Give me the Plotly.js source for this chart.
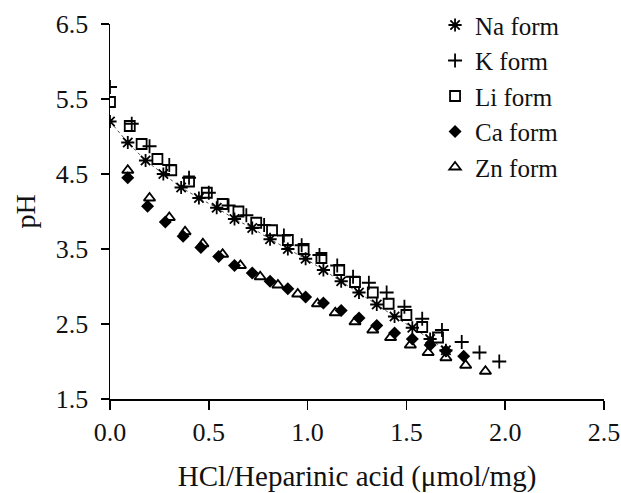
<!DOCTYPE html>
<html>
<head>
<meta charset="utf-8">
<script src="https://cdn.plot.ly/plotly-3.0.1.min.js"></script>
<style>html,body{margin:0;padding:0;background:#fff;}#chart{width:621px;height:493px;}</style>
</head>
<body>
<div id="chart"></div>
<script>
// Na form
const naX = [0.00, 0.09, 0.18, 0.27, 0.36, 0.45, 0.54, 0.63, 0.72, 0.81, 0.90, 0.99, 1.08, 1.17, 1.26, 1.35, 1.44, 1.53, 1.62, 1.70];
const naY = [5.20, 4.92, 4.68, 4.50, 4.32, 4.18, 4.05, 3.90, 3.78, 3.63, 3.50, 3.37, 3.22, 3.07, 2.92, 2.76, 2.60, 2.45, 2.30, 2.15];
// K form
const kX = [0.00, 0.11, 0.20, 0.30, 0.40, 0.50, 0.60, 0.69, 0.78, 0.88, 0.97, 1.06, 1.15, 1.23, 1.31, 1.40, 1.49, 1.58, 1.68, 1.78, 1.87, 1.97];
const kY = [5.66, 5.17, 4.87, 4.62, 4.45, 4.25, 4.08, 3.95, 3.82, 3.68, 3.55, 3.42, 3.28, 3.13, 3.05, 2.92, 2.73, 2.57, 2.42, 2.26, 2.12, 2.00];
// Li form
const liX = [0.00, 0.10, 0.16, 0.24, 0.31, 0.40, 0.49, 0.57, 0.65, 0.74, 0.82, 0.90, 0.98, 1.07, 1.16, 1.24, 1.33, 1.41, 1.50, 1.58, 1.66];
const liY = [5.46, 5.14, 4.90, 4.70, 4.55, 4.40, 4.25, 4.10, 4.00, 3.85, 3.75, 3.62, 3.50, 3.38, 3.22, 3.06, 2.92, 2.77, 2.62, 2.46, 2.32];
// Ca form
const caX = [0.09, 0.19, 0.28, 0.37, 0.46, 0.55, 0.63, 0.72, 0.81, 0.90, 0.99, 1.08, 1.17, 1.26, 1.35, 1.44, 1.53, 1.62, 1.70, 1.79];
const caY = [4.45, 4.07, 3.86, 3.67, 3.52, 3.40, 3.28, 3.18, 3.07, 2.97, 2.86, 2.78, 2.68, 2.58, 2.48, 2.38, 2.30, 2.22, 2.14, 2.07];
// Zn form
const znX = [0.09, 0.20, 0.30, 0.38, 0.47, 0.57, 0.66, 0.76, 0.85, 0.95, 1.05, 1.14, 1.24, 1.33, 1.42, 1.52, 1.61, 1.70, 1.80, 1.90];
const znY = [4.55, 4.18, 3.92, 3.73, 3.57, 3.43, 3.28, 3.13, 3.02, 2.90, 2.77, 2.65, 2.53, 2.42, 2.32, 2.22, 2.12, 2.05, 1.95, 1.87];

const xTicks = [0.0, 0.5, 1.0, 1.5, 2.0, 2.5];
const yTicks = [1.5, 2.5, 3.5, 4.5, 5.5, 6.5];

const FONT = 'Liberation Serif, Times New Roman, serif';
const traces = [
  {name: 'Na trend', x: naX, y: naY, mode: 'lines', type: 'scatter', showlegend: false,
   line: {color: '#555', width: 1, dash: 'dot'}},
  {name: 'Na form', x: naX, y: naY, mode: 'markers', type: 'scatter',
   marker: {symbol: 'asterisk-open', size: 11, color: '#000', line: {color: '#000', width: 1.8}}},
  {name: 'K form', x: kX, y: kY, mode: 'markers', type: 'scatter',
   marker: {symbol: 'cross-thin-open', size: 10, color: '#000', line: {color: '#000', width: 1.8}}},
  {name: 'Li form', x: liX, y: liY, mode: 'markers', type: 'scatter',
   marker: {symbol: 'square-open', size: 10, color: '#000', line: {color: '#000', width: 1.8}}},
  {name: 'Ca form', x: caX, y: caY, mode: 'markers', type: 'scatter',
   marker: {symbol: 'diamond', size: 10, color: '#000', line: {width: 0}}},
  {name: 'Zn form', x: znX, y: znY, mode: 'markers', type: 'scatter',
   marker: {symbol: 'triangle-up-open', size: 10, color: '#000', line: {color: '#000', width: 1.8}}}
];

const layout = {
  width: 621, height: 493,
  margin: {l: 110, r: 17, t: 24, b: 94, autoexpand: false},
  paper_bgcolor: '#fff', plot_bgcolor: '#fff',
  font: {family: FONT, size: 26, color: '#111'},
  showlegend: true,
  legend: {x: 0.658, xanchor: 'left', y: 1.058, yanchor: 'top', bgcolor: 'rgba(0,0,0,0)',
           font: {family: FONT, size: 25}, itemwidth: 30, tracegroupgap: 0},
  xaxis: {range: [0, 2.5], tickvals: xTicks, ticktext: xTicks.map(v => v.toFixed(1)),
          showline: true, linecolor: '#000', linewidth: 1.5, ticks: 'outside', ticklen: 9,
          tickcolor: '#000', tickwidth: 1.5, showgrid: false, zeroline: false,
          tickfont: {family: FONT, size: 26},
          title: {text: 'HCl/Heparinic acid (μmol/mg)', font: {family: FONT, size: 29}, standoff: 36}},
  yaxis: {range: [1.5, 6.5], tickvals: yTicks, ticktext: yTicks.map(v => v.toFixed(1)),
          showline: true, linecolor: '#000', linewidth: 1.5, ticks: 'outside', ticklen: 8,
          tickcolor: '#000', tickwidth: 1.5, showgrid: false, zeroline: false,
          ticklabelstandoff: 7,
          tickfont: {family: FONT, size: 26},
          title: {text: 'pH', font: {family: FONT, size: 28}, standoff: 12}}
};

Plotly.newPlot('chart', traces, layout, {displayModeBar: false, staticPlot: true});
</script>
</body>
</html>
